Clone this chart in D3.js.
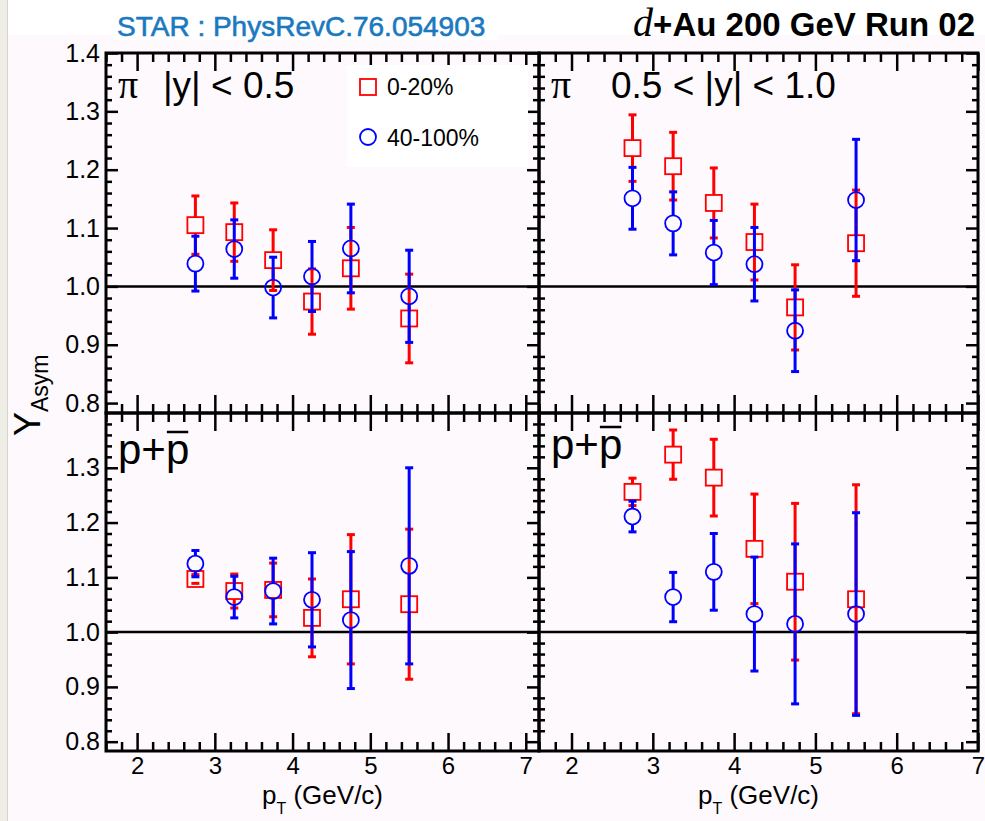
<!DOCTYPE html>
<html>
<head>
<meta charset="utf-8">
<title>Y_Asym vs pT, d+Au 200 GeV</title>
<script src="https://cdn.jsdelivr.net/npm/d3@7"></script>
<style>
  body { margin: 0; background: #fff; }
  text { font-family: "Liberation Sans", Arial, Helvetica, sans-serif; }
</style>
</head>
<body>
<svg id="chart"></svg>
<script>
  // pT bin centres (GeV/c)
  var pT = [2.75, 3.25, 3.75, 4.25, 4.75, 5.5];

  // pions, |y| < 0.5
  var pionMid020 = [1.105, 1.093, 1.045, 0.974, 1.031, 0.945];
  var pionMid020Err = [0.050, 0.050, 0.052, 0.056, 0.070, 0.076];
  var pionMid40100 = [1.039, 1.064, 0.998, 1.017, 1.065, 0.983];
  var pionMid40100Err = [0.047, 0.050, 0.052, 0.060, 0.076, 0.079];

  // pions, 0.5 < |y| < 1.0
  var pionFwd020 = [1.237, 1.206, 1.143, 1.076, 0.964, 1.074];
  var pionFwd020Err = [0.057, 0.058, 0.060, 0.065, 0.073, 0.091];
  var pionFwd40100 = [1.151, 1.108, 1.058, 1.038, 0.924, 1.148];
  var pionFwd40100Err = [0.053, 0.054, 0.055, 0.063, 0.070, 0.104];

  // p + pbar, |y| < 0.5
  var protonMid020 = [1.097, 1.075, 1.077, 1.026, 1.060, 1.051];
  var protonMid020Err = [0.008, 0.031, 0.049, 0.071, 0.118, 0.137];
  var protonMid40100 = [1.125, 1.064, 1.075, 1.059, 1.022, 1.121];
  var protonMid40100Err = [0.024, 0.038, 0.060, 0.086, 0.125, 0.179];

  // p + pbar, 0.5 < |y| < 1.0
  var protonFwd020 = [1.256, 1.324, 1.282, 1.152, 1.092, 1.060];
  var protonFwd020Err = [0.025, 0.045, 0.070, 0.100, 0.143, 0.209];
  var protonFwd40100 = [1.211, 1.064, 1.110, 1.033, 1.015, 1.033];
  var protonFwd40100Err = [0.028, 0.045, 0.070, 0.104, 0.146, 0.185];

  var centralities = ["0-20%", "40-100%"];
  var xTicks = [2, 3, 4, 5, 6, 7];
  var yTicksTop = [0.8, 0.9, 1.0, 1.1, 1.2, 1.3, 1.4];
  var yTicksBottom = [0.8, 0.9, 1.0, 1.1, 1.2, 1.3];

  var width = 985, height = 821;
  var red = "#ff0000", blue = "#0000ff";
  var half = 8; // marker half size

  var svg = d3.select('#chart')
    .attr('width', width)
    .attr('height', height);

  // page background
  svg.append('rect').attr('width', width).attr('height', height).attr('fill', '#ffffff');
  svg.append('rect').attr('x', 8).attr('y', 35).attr('width', width - 8).attr('height', height - 35)
    .attr('fill', '#fdf9fd');
  svg.append('rect').attr('x', 0).attr('y', 0).attr('width', 7).attr('height', height).attr('fill', '#efeee6');
  svg.append('line').attr('x1', 7.5).attr('x2', 7.5).attr('y1', 0).attr('y2', height)
    .attr('stroke', '#d6d6ce').attr('stroke-width', 1);
  svg.append('rect').attr('x', 113).attr('y', 0).attr('width', 384).attr('height', 40).attr('fill', '#ffffff');

  // panels
  var panels = [
    {left: 106, right: 539, top: 53, bottom: 413, xMax: 7.17, yTicks: yTicksTop, xLabels: false,
     series: [[pionMid020, pionMid020Err], [pionMid40100, pionMid40100Err]], kind: 'pi', label: '|y| < 0.5', legend: true},
    {left: 539, right: 978, top: 53, bottom: 413, xMax: 7.0, yTicks: yTicksTop, xLabels: false,
     series: [[pionFwd020, pionFwd020Err], [pionFwd40100, pionFwd40100Err]], kind: 'pi', label: '0.5 < |y| < 1.0'},
    {left: 106, right: 539, top: 413, bottom: 751, xMax: 7.17, yTicks: yTicksBottom, xLabels: true,
     series: [[protonMid020, protonMid020Err], [protonMid40100, protonMid40100Err]], kind: 'p'},
    {left: 539, right: 978, top: 413, bottom: 751, xMax: 7.0, yTicks: yTicksBottom, xLabels: true,
     series: [[protonFwd020, protonFwd020Err], [protonFwd40100, protonFwd40100Err]], kind: 'p'}
  ];

  function isMajor(v, step) {
    return Math.abs(v / step - Math.round(v / step)) < 1e-6;
  }

  function styleAxis(g) {
    g.select('.domain').remove();
    g.selectAll('.tick line').attr('stroke', '#000').attr('stroke-width', 2.5);
    g.selectAll('.tick text').attr('fill', '#000').attr('font-size', 25);
  }

  panels.forEach(function(p, idx) {
    var x = d3.scaleLinear().domain([1.6, p.xMax]).range([p.left, p.right]);
    var y = d3.scaleLinear().domain([0.783, 1.4]).range([p.bottom, p.top]);
    var g = svg.append('g').attr('class', 'panel panel' + idx);

    var xMinor = d3.range(16, 73, 2).map(function(v) {return v / 10;})
      .filter(function(v) {return v <= p.xMax && !isMajor(v, 1);});
    var yMinor = d3.range(40, 71).map(function(v) {return v / 50;})
      .filter(function(v) {return !isMajor(v, 0.1);});

    // bottom axis
    g.append('g').attr('transform', 'translate(0,' + p.bottom + ')')
      .call(d3.axisBottom(x).tickValues(xMinor).tickSize(-9).tickFormat(''))
      .call(styleAxis);
    g.append('g').attr('transform', 'translate(0,' + p.bottom + ')')
      .call(d3.axisBottom(x).tickValues(xTicks).tickSize(-18).tickPadding(6)
        .tickFormat(p.xLabels ? d3.format('d') : ''))
      .call(styleAxis)
      .selectAll('.tick text').attr('font-size', 24);
    // top axis
    g.append('g').attr('transform', 'translate(0,' + p.top + ')')
      .call(d3.axisTop(x).tickValues(xMinor).tickSize(-9).tickFormat(''))
      .call(styleAxis);
    g.append('g').attr('transform', 'translate(0,' + p.top + ')')
      .call(d3.axisTop(x).tickValues(xTicks).tickSize(-18).tickFormat(''))
      .call(styleAxis);
    // left axis
    g.append('g').attr('transform', 'translate(' + p.left + ',0)')
      .call(d3.axisLeft(y).tickValues(yMinor).tickSize(-6).tickFormat(''))
      .call(styleAxis);
    g.append('g').attr('transform', 'translate(' + p.left + ',0)')
      .call(d3.axisLeft(y).tickValues(idx % 2 === 0 ? p.yTicks : []).tickSize(-12).tickPadding(6)
        .tickFormat(d3.format('.1f')))
      .call(styleAxis);
    // right axis
    g.append('g').attr('transform', 'translate(' + p.right + ',0)')
      .call(d3.axisRight(y).tickValues(yMinor).tickSize(-6).tickFormat(''))
      .call(styleAxis);
    g.append('g').attr('transform', 'translate(' + p.right + ',0)')
      .call(d3.axisRight(y).tickValues(p.yTicks).tickSize(-12).tickFormat(''))
      .call(styleAxis);

    // frame
    g.append('rect')
      .attr('x', p.left).attr('y', p.top)
      .attr('width', p.right - p.left).attr('height', p.bottom - p.top)
      .attr('fill', 'none').attr('stroke', '#000').attr('stroke-width', 3);

    // legend box (under the data)
    if (p.legend) {
      var lg = g.append('g');
      lg.append('rect').attr('x', 347).attr('y', 65).attr('width', 181).attr('height', 102).attr('fill', '#ffffff');
      lg.append('rect').attr('x', 368 - half).attr('y', 87 - half).attr('width', 2 * half).attr('height', 2 * half)
        .attr('fill', 'none').attr('stroke', red).attr('stroke-width', 1.8);
      lg.append('text').attr('x', 387).attr('y', 95).attr('font-size', 23).text(centralities[0]);
      lg.append('circle').attr('cx', 368).attr('cy', 137).attr('r', half)
        .attr('fill', 'none').attr('stroke', blue).attr('stroke-width', 1.8);
      lg.append('text').attr('x', 387).attr('y', 146).attr('font-size', 23).text(centralities[1]);
    }

    // y = 1 reference line
    g.append('line')
      .attr('x1', p.left).attr('x2', p.right)
      .attr('y1', y(1.0)).attr('y2', y(1.0))
      .attr('stroke', '#000').attr('stroke-width', 2.5);

    // data
    p.series.forEach(function(s, si) {
      var color = si === 0 ? red : blue;
      var data = pT.map(function(d, i) {return {pt: d, v: s[0][i], e: s[1][i]};});
      var sg = g.append('g');

      sg.selectAll('line.up').data(data.filter(function(d) {return y(d.v + d.e) < y(d.v) - half;}))
        .join('line').attr('class', 'up')
        .attr('x1', function(d) {return x(d.pt);}).attr('x2', function(d) {return x(d.pt);})
        .attr('y1', function(d) {return y(d.v + d.e);}).attr('y2', function(d) {return y(d.v) - half;})
        .attr('stroke', color).attr('stroke-width', 3);
      sg.selectAll('line.down').data(data.filter(function(d) {return y(d.v - d.e) > y(d.v) + half;}))
        .join('line').attr('class', 'down')
        .attr('x1', function(d) {return x(d.pt);}).attr('x2', function(d) {return x(d.pt);})
        .attr('y1', function(d) {return y(d.v) + half;}).attr('y2', function(d) {return y(d.v - d.e);})
        .attr('stroke', color).attr('stroke-width', 3);
      [1, -1].forEach(function(sign) {
        sg.selectAll('line.cap' + (sign > 0 ? 'u' : 'd')).data(data)
          .join('line').attr('class', 'cap' + (sign > 0 ? 'u' : 'd'))
          .attr('x1', function(d) {return x(d.pt) - 4;}).attr('x2', function(d) {return x(d.pt) + 4;})
          .attr('y1', function(d) {return y(d.v + sign * d.e);}).attr('y2', function(d) {return y(d.v + sign * d.e);})
          .attr('stroke', color).attr('stroke-width', 3);
      });

      if (si === 0) {
        sg.selectAll('rect.m').data(data).join('rect').attr('class', 'm')
          .attr('x', function(d) {return x(d.pt) - half;})
          .attr('y', function(d) {return y(d.v) - half;})
          .attr('width', 2 * half).attr('height', 2 * half)
          .attr('fill', 'none').attr('stroke', color).attr('stroke-width', 1.8);
      } else {
        sg.selectAll('circle.m').data(data).join('circle').attr('class', 'm')
          .attr('cx', function(d) {return x(d.pt);})
          .attr('cy', function(d) {return y(d.v);})
          .attr('r', half)
          .attr('fill', 'none').attr('stroke', color).attr('stroke-width', 1.8);
      }
    });

    // panel labels
    if (p.kind === 'pi') {
      g.append('text').attr('x', p.left + 12).attr('y', p.top + 45)
        .style('font-family', '"Liberation Serif", "DejaVu Serif", serif')
        .attr('font-size', 40).text('\u03c0');
      g.append('text').attr('x', p.left + (idx === 0 ? 57 : 72)).attr('y', p.top + 45)
        .attr('font-size', 37).text(p.label);
    } else {
      var base = p.top + 51 - (idx === 3 ? 5 : 0);
      var t = g.append('text').attr('x', p.left + 12).attr('y', base)
        .attr('font-size', 42).text('p+p');
      // bar over the anti-proton p
      var node = t.node();
      var start = node.getStartPositionOfChar(2);
      var w = node.getSubStringLength(2, 1);
      g.append('line')
        .attr('x1', start.x + 1).attr('x2', start.x + w - 1)
        .attr('y1', base - 32).attr('y2', base - 32)
        .attr('stroke', '#000').attr('stroke-width', 2.5);
    }

    // x title
    if (p.xLabels) {
      var xt = svg.append('text')
        .attr('x', (p.left + p.right) / 2).attr('y', 804)
        .attr('text-anchor', 'middle').attr('font-size', 26);
      xt.append('tspan').text('p');
      xt.append('tspan').attr('dy', 10).attr('font-size', 16).text('T');
      xt.append('tspan').attr('dy', -10).text(' (GeV/c)');
    }
  });

  // y title
  var yt = svg.append('text')
    .attr('transform', 'translate(40,436) rotate(-90)')
    .attr('font-size', 36);
  yt.append('tspan').text('Y');
  yt.append('tspan').attr('dy', 8).attr('font-size', 23).text('Asym');

  // header texts
  svg.append('text').attr('x', 117).attr('y', 36)
    .attr('font-size', 28).attr('fill', '#1b79c0')
    .attr('stroke', '#1b79c0').attr('stroke-width', 0.6)
    .text('STAR : PhysRevC.76.054903');

  var hdr = svg.append('text').attr('x', 975).attr('y', 36)
    .attr('text-anchor', 'end').attr('font-size', 33).attr('font-weight', 'bold');
  hdr.append('tspan')
    .style('font-family', '"Liberation Serif", "DejaVu Serif", serif')
    .attr('font-style', 'italic').attr('font-weight', 'normal').attr('font-size', 40).text('d');
  hdr.append('tspan').text('+Au 200 GeV Run 02');
</script>
</body>
</html>
